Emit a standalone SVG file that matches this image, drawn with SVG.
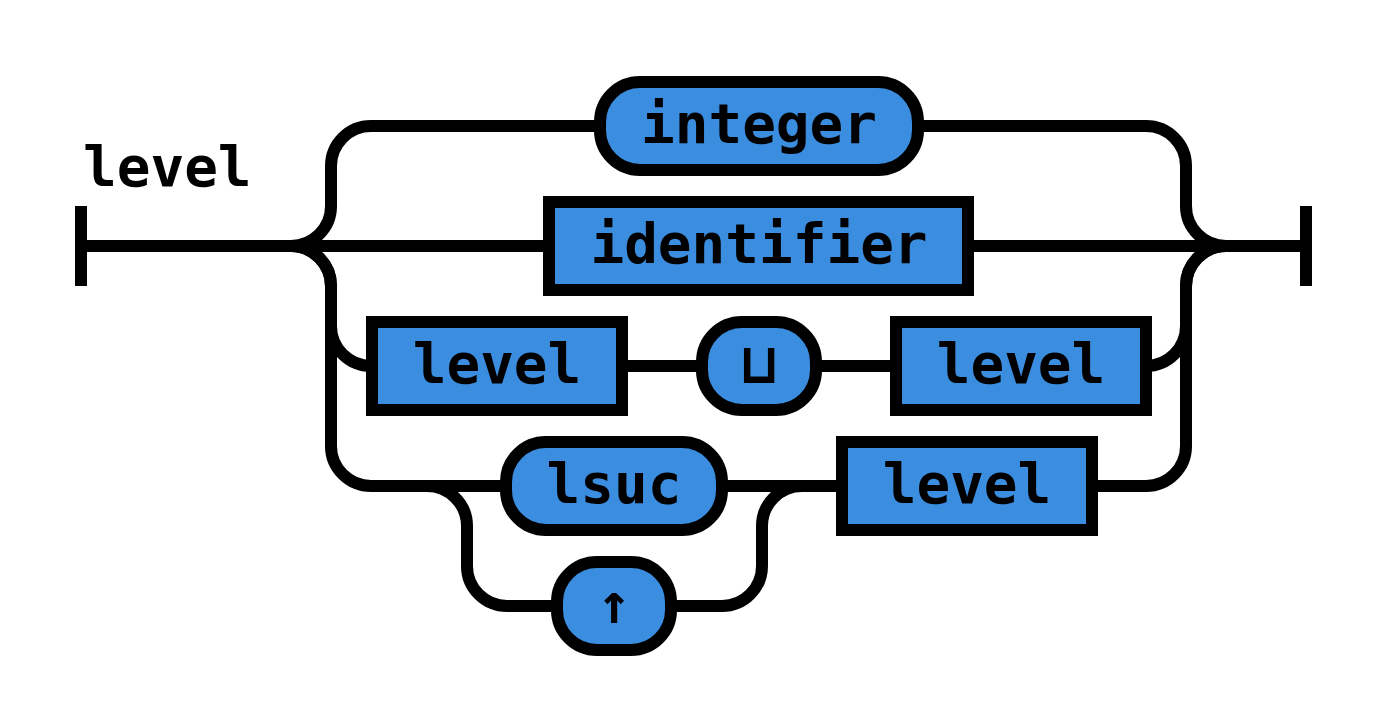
<svg xmlns="http://www.w3.org/2000/svg" width="1384" height="728" viewBox="0 0 1384 728">
<style>
.wire{fill:none;stroke:#000;stroke-width:12;stroke-linecap:butt}
.node rect{fill:#3a8ddf;stroke:#000;stroke-width:12}
text{font-family:"DejaVu Sans Mono","Liberation Mono",monospace;font-weight:bold;font-size:56px;fill:#000}
.node text{text-anchor:middle}
</style>
<rect width="1384" height="728" fill="#fff"/>
<text id="title" x="83" y="186">level</text>
<g id="connectors" class="wire">
<path d="M81 206 V286 M81 246 H291"/>
<path d="M291 246 A40 40 0 0 0 331 206 V166 A40 40 0 0 1 371 126 H600"/>
<path d="M291 246 H549"/>
<path d="M291 246 A40 40 0 0 1 331 286 V326 A40 40 0 0 0 371 366 H372"/>
<path d="M291 246 A40 40 0 0 1 331 286 V446 A40 40 0 0 0 371 486 H506"/>
<path d="M622 366 H702 M816 366 H896"/>
<path d="M427 486 A40 40 0 0 1 467 526 V566 A40 40 0 0 0 507 606 H557"/>
<path d="M671 606 H722 A40 40 0 0 0 762 566 V526 A40 40 0 0 1 802 486"/>
<path d="M722 486 H842"/>
<path d="M918 126 H1146 A40 40 0 0 1 1186 166 V206 A40 40 0 0 0 1226 246"/>
<path d="M968 246 H1306 M1306 206 V286"/>
<path d="M1146 366 A40 40 0 0 0 1186 326 V286 A40 40 0 0 1 1226 246"/>
<path d="M1092 486 H1146 A40 40 0 0 0 1186 446 V286 A40 40 0 0 1 1226 246"/>
</g>
<g id="n-integer" class="node"><rect x="600" y="82" width="318" height="88" rx="40" ry="40"/><text x="759" y="143">integer</text></g>
<g id="n-identifier" class="node"><rect x="549" y="202" width="419" height="88"/><text x="759" y="263">identifier</text></g>
<g id="n-level1" class="node"><rect x="372" y="322" width="250" height="88"/><text x="497" y="383">level</text></g>
<g id="n-sqcup" class="node"><rect x="702" y="322" width="114" height="88" rx="40" ry="40"/><text x="759" y="383">⊔</text></g>
<g id="n-level2" class="node"><rect x="896" y="322" width="250" height="88"/><text x="1021" y="383">level</text></g>
<g id="n-lsuc" class="node"><rect x="506" y="442" width="216" height="88" rx="40" ry="40"/><text x="614" y="503">lsuc</text></g>
<g id="n-up" class="node"><rect x="557" y="562" width="114" height="88" rx="40" ry="40"/><text x="614" y="623">↑</text></g>
<g id="n-level3" class="node"><rect x="842" y="442" width="250" height="88"/><text x="967" y="503">level</text></g>
</svg>
